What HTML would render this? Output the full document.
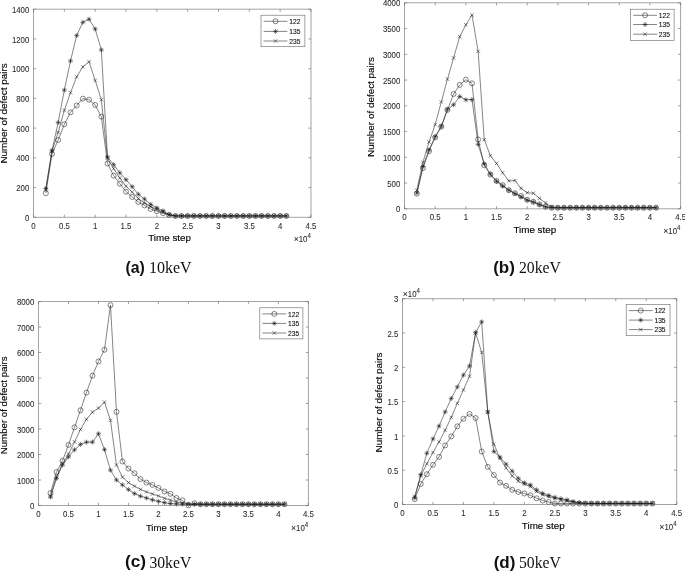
<!DOCTYPE html>
<html lang="en">
<head>
<meta charset="utf-8">
<title>Number of defect pairs vs time step</title>
<style>
html,body{margin:0;padding:0;background:#fff;}
body{width:685px;height:571px;overflow:hidden;}
svg{display:block;will-change:transform;}
</style>
</head>
<body>
<svg width="685" height="571" viewBox="0 0 685 571">
<rect width="685" height="571" fill="#fff"/>
<path d="M45.83 193.22L52 153.98L58.17 140.01L64.33 124.25L70.5 112.36L76.67 105.52L82.83 98.68L89 99.72L95.17 104.93L101.33 116.67L107.5 163.49L113.67 175.68L119.83 183.71L126 191.73L132.17 196.94L138.33 201.99L144.5 205.41L150.67 208.98L156.83 211.21L163 213.14L169.17 214.92L175.33 215.96L181.5 215.96L187.67 215.96L193.83 215.96L200 215.96L206.17 215.96L212.33 215.96L218.5 215.96L224.67 215.96L230.83 215.96L237 215.96L243.17 215.96L249.33 215.96L255.5 215.96L261.67 215.96L267.83 215.96L274 215.96L280.17 215.96L286.33 215.96M43.33 193.22a2.5 2.5 0 1 0 5 0a2.5 2.5 0 1 0 -5 0M49.5 153.98a2.5 2.5 0 1 0 5 0a2.5 2.5 0 1 0 -5 0M55.67 140.01a2.5 2.5 0 1 0 5 0a2.5 2.5 0 1 0 -5 0M61.83 124.25a2.5 2.5 0 1 0 5 0a2.5 2.5 0 1 0 -5 0M68 112.36a2.5 2.5 0 1 0 5 0a2.5 2.5 0 1 0 -5 0M74.17 105.52a2.5 2.5 0 1 0 5 0a2.5 2.5 0 1 0 -5 0M80.33 98.68a2.5 2.5 0 1 0 5 0a2.5 2.5 0 1 0 -5 0M86.5 99.72a2.5 2.5 0 1 0 5 0a2.5 2.5 0 1 0 -5 0M92.67 104.93a2.5 2.5 0 1 0 5 0a2.5 2.5 0 1 0 -5 0M98.83 116.67a2.5 2.5 0 1 0 5 0a2.5 2.5 0 1 0 -5 0M105 163.49a2.5 2.5 0 1 0 5 0a2.5 2.5 0 1 0 -5 0M111.17 175.68a2.5 2.5 0 1 0 5 0a2.5 2.5 0 1 0 -5 0M117.33 183.71a2.5 2.5 0 1 0 5 0a2.5 2.5 0 1 0 -5 0M123.5 191.73a2.5 2.5 0 1 0 5 0a2.5 2.5 0 1 0 -5 0M129.67 196.94a2.5 2.5 0 1 0 5 0a2.5 2.5 0 1 0 -5 0M135.83 201.99a2.5 2.5 0 1 0 5 0a2.5 2.5 0 1 0 -5 0M142 205.41a2.5 2.5 0 1 0 5 0a2.5 2.5 0 1 0 -5 0M148.17 208.98a2.5 2.5 0 1 0 5 0a2.5 2.5 0 1 0 -5 0M154.33 211.21a2.5 2.5 0 1 0 5 0a2.5 2.5 0 1 0 -5 0M160.5 213.14a2.5 2.5 0 1 0 5 0a2.5 2.5 0 1 0 -5 0M166.67 214.92a2.5 2.5 0 1 0 5 0a2.5 2.5 0 1 0 -5 0M172.83 215.96a2.5 2.5 0 1 0 5 0a2.5 2.5 0 1 0 -5 0M179 215.96a2.5 2.5 0 1 0 5 0a2.5 2.5 0 1 0 -5 0M185.17 215.96a2.5 2.5 0 1 0 5 0a2.5 2.5 0 1 0 -5 0M191.33 215.96a2.5 2.5 0 1 0 5 0a2.5 2.5 0 1 0 -5 0M197.5 215.96a2.5 2.5 0 1 0 5 0a2.5 2.5 0 1 0 -5 0M203.67 215.96a2.5 2.5 0 1 0 5 0a2.5 2.5 0 1 0 -5 0M209.83 215.96a2.5 2.5 0 1 0 5 0a2.5 2.5 0 1 0 -5 0M216 215.96a2.5 2.5 0 1 0 5 0a2.5 2.5 0 1 0 -5 0M222.17 215.96a2.5 2.5 0 1 0 5 0a2.5 2.5 0 1 0 -5 0M228.33 215.96a2.5 2.5 0 1 0 5 0a2.5 2.5 0 1 0 -5 0M234.5 215.96a2.5 2.5 0 1 0 5 0a2.5 2.5 0 1 0 -5 0M240.67 215.96a2.5 2.5 0 1 0 5 0a2.5 2.5 0 1 0 -5 0M246.83 215.96a2.5 2.5 0 1 0 5 0a2.5 2.5 0 1 0 -5 0M253 215.96a2.5 2.5 0 1 0 5 0a2.5 2.5 0 1 0 -5 0M259.17 215.96a2.5 2.5 0 1 0 5 0a2.5 2.5 0 1 0 -5 0M265.33 215.96a2.5 2.5 0 1 0 5 0a2.5 2.5 0 1 0 -5 0M271.5 215.96a2.5 2.5 0 1 0 5 0a2.5 2.5 0 1 0 -5 0M277.67 215.96a2.5 2.5 0 1 0 5 0a2.5 2.5 0 1 0 -5 0M283.83 215.96a2.5 2.5 0 1 0 5 0a2.5 2.5 0 1 0 -5 0M45.83 188.61L52 150.41L58.17 122.47L64.33 90.06L70.5 60.93L76.67 35.51L82.83 22.28L89 19.16L95.17 28.97L101.33 49.93L107.5 156.95L113.67 164.68L119.83 172.86L126 179.69L132.17 186.68L138.33 194.26L144.5 199.02L150.67 204.37L156.83 207.79L163 210.76L169.17 214.62L175.33 215.96L181.5 215.96L187.67 215.96L193.83 215.96L200 215.96L206.17 215.96L212.33 215.96L218.5 215.96L224.67 215.96L230.83 215.96L237 215.96L243.17 215.96L249.33 215.96L255.5 215.96L261.67 215.96L267.83 215.96L274 215.96L280.17 215.96L286.33 215.96M43.33 188.61L48.33 188.61M45.83 186.11L45.83 191.11M44.08 186.86L47.58 190.36M44.08 190.36L47.58 186.86M49.5 150.41L54.5 150.41M52 147.91L52 152.91M50.25 148.66L53.75 152.16M50.25 152.16L53.75 148.66M55.67 122.47L60.67 122.47M58.17 119.97L58.17 124.97M56.42 120.72L59.92 124.22M56.42 124.22L59.92 120.72M61.83 90.06L66.83 90.06M64.33 87.56L64.33 92.56M62.58 88.31L66.08 91.81M62.58 91.81L66.08 88.31M68 60.93L73 60.93M70.5 58.43L70.5 63.43M68.75 59.18L72.25 62.68M68.75 62.68L72.25 59.18M74.17 35.51L79.17 35.51M76.67 33.01L76.67 38.01M74.92 33.76L78.42 37.26M74.92 37.26L78.42 33.76M80.33 22.28L85.33 22.28M82.83 19.78L82.83 24.78M81.08 20.53L84.58 24.03M81.08 24.03L84.58 20.53M86.5 19.16L91.5 19.16M89 16.66L89 21.66M87.25 17.41L90.75 20.91M87.25 20.91L90.75 17.41M92.67 28.97L97.67 28.97M95.17 26.47L95.17 31.47M93.42 27.22L96.92 30.72M93.42 30.72L96.92 27.22M98.83 49.93L103.83 49.93M101.33 47.43L101.33 52.43M99.58 48.18L103.08 51.68M99.58 51.68L103.08 48.18M105 156.95L110 156.95M107.5 154.45L107.5 159.45M105.75 155.2L109.25 158.7M105.75 158.7L109.25 155.2M111.17 164.68L116.17 164.68M113.67 162.18L113.67 167.18M111.92 162.93L115.42 166.43M111.92 166.43L115.42 162.93M117.33 172.86L122.33 172.86M119.83 170.36L119.83 175.36M118.08 171.11L121.58 174.61M118.08 174.61L121.58 171.11M123.5 179.69L128.5 179.69M126 177.19L126 182.19M124.25 177.94L127.75 181.44M124.25 181.44L127.75 177.94M129.67 186.68L134.67 186.68M132.17 184.18L132.17 189.18M130.42 184.93L133.92 188.43M130.42 188.43L133.92 184.93M135.83 194.26L140.83 194.26M138.33 191.76L138.33 196.76M136.58 192.51L140.08 196.01M136.58 196.01L140.08 192.51M142 199.02L147 199.02M144.5 196.52L144.5 201.52M142.75 197.27L146.25 200.77M142.75 200.77L146.25 197.27M148.17 204.37L153.17 204.37M150.67 201.87L150.67 206.87M148.92 202.62L152.42 206.12M148.92 206.12L152.42 202.62M154.33 207.79L159.33 207.79M156.83 205.29L156.83 210.29M155.08 206.04L158.58 209.54M155.08 209.54L158.58 206.04M160.5 210.76L165.5 210.76M163 208.26L163 213.26M161.25 209.01L164.75 212.51M161.25 212.51L164.75 209.01M166.67 214.62L171.67 214.62M169.17 212.12L169.17 217.12M167.42 212.87L170.92 216.37M167.42 216.37L170.92 212.87M172.83 215.96L177.83 215.96M175.33 213.46L175.33 218.46M173.58 214.21L177.08 217.71M173.58 217.71L177.08 214.21M179 215.96L184 215.96M181.5 213.46L181.5 218.46M179.75 214.21L183.25 217.71M179.75 217.71L183.25 214.21M185.17 215.96L190.17 215.96M187.67 213.46L187.67 218.46M185.92 214.21L189.42 217.71M185.92 217.71L189.42 214.21M191.33 215.96L196.33 215.96M193.83 213.46L193.83 218.46M192.08 214.21L195.58 217.71M192.08 217.71L195.58 214.21M197.5 215.96L202.5 215.96M200 213.46L200 218.46M198.25 214.21L201.75 217.71M198.25 217.71L201.75 214.21M203.67 215.96L208.67 215.96M206.17 213.46L206.17 218.46M204.42 214.21L207.92 217.71M204.42 217.71L207.92 214.21M209.83 215.96L214.83 215.96M212.33 213.46L212.33 218.46M210.58 214.21L214.08 217.71M210.58 217.71L214.08 214.21M216 215.96L221 215.96M218.5 213.46L218.5 218.46M216.75 214.21L220.25 217.71M216.75 217.71L220.25 214.21M222.17 215.96L227.17 215.96M224.67 213.46L224.67 218.46M222.92 214.21L226.42 217.71M222.92 217.71L226.42 214.21M228.33 215.96L233.33 215.96M230.83 213.46L230.83 218.46M229.08 214.21L232.58 217.71M229.08 217.71L232.58 214.21M234.5 215.96L239.5 215.96M237 213.46L237 218.46M235.25 214.21L238.75 217.71M235.25 217.71L238.75 214.21M240.67 215.96L245.67 215.96M243.17 213.46L243.17 218.46M241.42 214.21L244.92 217.71M241.42 217.71L244.92 214.21M246.83 215.96L251.83 215.96M249.33 213.46L249.33 218.46M247.58 214.21L251.08 217.71M247.58 217.71L251.08 214.21M253 215.96L258 215.96M255.5 213.46L255.5 218.46M253.75 214.21L257.25 217.71M253.75 217.71L257.25 214.21M259.17 215.96L264.17 215.96M261.67 213.46L261.67 218.46M259.92 214.21L263.42 217.71M259.92 217.71L263.42 214.21M265.33 215.96L270.33 215.96M267.83 213.46L267.83 218.46M266.08 214.21L269.58 217.71M266.08 217.71L269.58 214.21M271.5 215.96L276.5 215.96M274 213.46L274 218.46M272.25 214.21L275.75 217.71M272.25 217.71L275.75 214.21M277.67 215.96L282.67 215.96M280.17 213.46L280.17 218.46M278.42 214.21L281.92 217.71M278.42 217.71L281.92 214.21M283.83 215.96L288.83 215.96M286.33 213.46L286.33 218.46M284.58 214.21L288.08 217.71M284.58 217.71L288.08 214.21M45.83 189.65L52 151.15L58.17 132.42L64.33 110.28L70.5 92.74L76.67 76.83L82.83 66.87L89 61.67L95.17 80.4L101.33 99.72L107.5 158.14L113.67 168.69L119.83 178.06L126 186.23L132.17 192.03L138.33 198.57L144.5 203.03L150.67 206.75L156.83 209.57L163 212.39L169.17 214.77L175.33 215.96L181.5 215.96L187.67 215.96L193.83 215.96L200 215.96L206.17 215.96L212.33 215.96L218.5 215.96L224.67 215.96L230.83 215.96L237 215.96L243.17 215.96L249.33 215.96L255.5 215.96L261.67 215.96L267.83 215.96L274 215.96L280.17 215.96L286.33 215.96M44.08 187.9L47.58 191.4M44.08 191.4L47.58 187.9M50.25 149.4L53.75 152.9M50.25 152.9L53.75 149.4M56.42 130.67L59.92 134.17M56.42 134.17L59.92 130.67M62.58 108.53L66.08 112.03M62.58 112.03L66.08 108.53M68.75 90.99L72.25 94.49M68.75 94.49L72.25 90.99M74.92 75.08L78.42 78.58M74.92 78.58L78.42 75.08M81.08 65.12L84.58 68.62M81.08 68.62L84.58 65.12M87.25 59.92L90.75 63.42M87.25 63.42L90.75 59.92M93.42 78.65L96.92 82.15M93.42 82.15L96.92 78.65M99.58 97.97L103.08 101.47M99.58 101.47L103.08 97.97M105.75 156.39L109.25 159.89M105.75 159.89L109.25 156.39M111.92 166.94L115.42 170.44M111.92 170.44L115.42 166.94M118.08 176.31L121.58 179.81M118.08 179.81L121.58 176.31M124.25 184.48L127.75 187.98M124.25 187.98L127.75 184.48M130.42 190.28L133.92 193.78M130.42 193.78L133.92 190.28M136.58 196.82L140.08 200.32M136.58 200.32L140.08 196.82M142.75 201.28L146.25 204.78M142.75 204.78L146.25 201.28M148.92 205L152.42 208.5M148.92 208.5L152.42 205M155.08 207.82L158.58 211.32M155.08 211.32L158.58 207.82M161.25 210.64L164.75 214.14M161.25 214.14L164.75 210.64M167.42 213.02L170.92 216.52M167.42 216.52L170.92 213.02M173.58 214.21L177.08 217.71M173.58 217.71L177.08 214.21M179.75 214.21L183.25 217.71M179.75 217.71L183.25 214.21M185.92 214.21L189.42 217.71M185.92 217.71L189.42 214.21M192.08 214.21L195.58 217.71M192.08 217.71L195.58 214.21M198.25 214.21L201.75 217.71M198.25 217.71L201.75 214.21M204.42 214.21L207.92 217.71M204.42 217.71L207.92 214.21M210.58 214.21L214.08 217.71M210.58 217.71L214.08 214.21M216.75 214.21L220.25 217.71M216.75 217.71L220.25 214.21M222.92 214.21L226.42 217.71M222.92 217.71L226.42 214.21M229.08 214.21L232.58 217.71M229.08 217.71L232.58 214.21M235.25 214.21L238.75 217.71M235.25 217.71L238.75 214.21M241.42 214.21L244.92 217.71M241.42 217.71L244.92 214.21M247.58 214.21L251.08 217.71M247.58 217.71L251.08 214.21M253.75 214.21L257.25 217.71M253.75 217.71L257.25 214.21M259.92 214.21L263.42 217.71M259.92 217.71L263.42 214.21M266.08 214.21L269.58 217.71M266.08 217.71L269.58 214.21M272.25 214.21L275.75 217.71M272.25 217.71L275.75 214.21M278.42 214.21L281.92 217.71M278.42 217.71L281.92 214.21M284.58 214.21L288.08 217.71M284.58 217.71L288.08 214.21" fill="none" stroke="#161616" stroke-width="0.52" stroke-linejoin="round"/>
<path d="M33.5 9.2H311V217.3H33.5ZM33.5 217.3v-2.7M33.5 9.2v2.7M64.33 217.3v-2.7M64.33 9.2v2.7M95.17 217.3v-2.7M95.17 9.2v2.7M126 217.3v-2.7M126 9.2v2.7M156.83 217.3v-2.7M156.83 9.2v2.7M187.67 217.3v-2.7M187.67 9.2v2.7M218.5 217.3v-2.7M218.5 9.2v2.7M249.33 217.3v-2.7M249.33 9.2v2.7M280.17 217.3v-2.7M280.17 9.2v2.7M311 217.3v-2.7M311 9.2v2.7M33.5 217.3h2.7M311 217.3h-2.7M33.5 187.57h2.7M311 187.57h-2.7M33.5 157.84h2.7M311 157.84h-2.7M33.5 128.11h2.7M311 128.11h-2.7M33.5 98.39h2.7M311 98.39h-2.7M33.5 68.66h2.7M311 68.66h-2.7M33.5 38.93h2.7M311 38.93h-2.7M33.5 9.2h2.7M311 9.2h-2.7" fill="none" stroke="#666" stroke-width="0.6"/>
<g font-family="'Liberation Sans', sans-serif" font-size="8.8" fill="#2a2a2a" stroke="#2a2a2a" stroke-width="0.08">
<text transform="translate(33.5 228.9) scale(0.89 1)" text-anchor="middle">0</text>
<text transform="translate(64.33 228.9) scale(0.89 1)" text-anchor="middle">0.5</text>
<text transform="translate(95.17 228.9) scale(0.89 1)" text-anchor="middle">1</text>
<text transform="translate(126 228.9) scale(0.89 1)" text-anchor="middle">1.5</text>
<text transform="translate(156.83 228.9) scale(0.89 1)" text-anchor="middle">2</text>
<text transform="translate(187.67 228.9) scale(0.89 1)" text-anchor="middle">2.5</text>
<text transform="translate(218.5 228.9) scale(0.89 1)" text-anchor="middle">3</text>
<text transform="translate(249.33 228.9) scale(0.89 1)" text-anchor="middle">3.5</text>
<text transform="translate(280.17 228.9) scale(0.89 1)" text-anchor="middle">4</text>
<text transform="translate(311 228.9) scale(0.89 1)" text-anchor="middle">4.5</text>
<text transform="translate(29.3 220.9) scale(0.89 1)" text-anchor="end">0</text>
<text transform="translate(29.3 191.17) scale(0.89 1)" text-anchor="end">200</text>
<text transform="translate(29.3 161.44) scale(0.89 1)" text-anchor="end">400</text>
<text transform="translate(29.3 131.71) scale(0.89 1)" text-anchor="end">600</text>
<text transform="translate(29.3 101.99) scale(0.89 1)" text-anchor="end">800</text>
<text transform="translate(29.3 72.26) scale(0.89 1)" text-anchor="end">1000</text>
<text transform="translate(29.3 42.53) scale(0.89 1)" text-anchor="end">1200</text>
<text transform="translate(29.3 12.8) scale(0.89 1)" text-anchor="end">1400</text>
<text transform="translate(310.8 242.4) scale(0.89 1)" text-anchor="end"><tspan font-size="9.8">×</tspan>10<tspan dy="-4" font-size="6.8">4</tspan></text>
</g>
<rect x="261" y="15.2" width="43.9" height="31.5" fill="#fff" stroke="#666" stroke-width="0.6"/>
<g fill="none" stroke="#161616" stroke-width="0.52">
<path d="M263.6 21.3h23.8"/>
<path d="M273 21.3a2.5 2.5 0 1 0 5 0a2.5 2.5 0 1 0 -5 0"/>
<path d="M263.6 31.4h23.8"/>
<path d="M273 31.4L278 31.4M275.5 28.9L275.5 33.9M273.75 29.65L277.25 33.15M273.75 33.15L277.25 29.65"/>
<path d="M263.6 41h23.8"/>
<path d="M273.75 39.25L277.25 42.75M273.75 42.75L277.25 39.25"/>
</g>
<g font-family="'Liberation Sans', sans-serif" font-size="7.3" fill="#111" stroke="#111" stroke-width="0.12">
<text transform="translate(289.2 24.05) scale(0.92 1)">122</text>
<text transform="translate(289.2 34.15) scale(0.92 1)">135</text>
<text transform="translate(289.2 43.75) scale(0.92 1)">235</text>
</g>
<text transform="translate(7.3 113.4) rotate(-90)" text-anchor="middle" textLength="100.4" lengthAdjust="spacingAndGlyphs" font-family="'Liberation Sans', sans-serif" font-size="9.9" fill="#000" stroke="#000" stroke-width="0.14">Number of defect pairs</text>
<text x="148.2" y="241" textLength="42.8" lengthAdjust="spacingAndGlyphs" font-family="'Liberation Sans', sans-serif" font-size="9.9" fill="#000" stroke="#000" stroke-width="0.14">Time step</text>
<text x="125.4" y="272.6" textLength="19.4" lengthAdjust="spacingAndGlyphs" font-family="'Liberation Sans', sans-serif" font-weight="bold" font-size="16" fill="#111">(a)</text>
<text x="148.9" y="273" textLength="42.8" lengthAdjust="spacingAndGlyphs" font-family="'Liberation Serif', serif" font-size="16" fill="#111">10keV</text>
<path d="M416.77 193.66L422.91 168.12L429.04 151.12L435.18 137.37L441.31 126.71L447.45 109.92L453.58 93.96L459.72 84.89L465.86 79.69L471.99 83.35L478.13 139.48L484.26 165.28L490.4 174.6L496.53 180.89L502.67 185.06L508.8 190.21L514.94 193.2L521.08 196.03L527.21 199.74L533.35 201.8L539.48 204.37L545.62 206.69L551.75 207.72L557.89 207.72L564.02 207.72L570.16 207.72L576.3 207.72L582.43 207.72L588.57 207.72L594.7 207.72L600.84 207.72L606.97 207.72L613.11 207.72L619.24 207.72L625.38 207.72L631.52 207.72L637.65 207.72L643.79 207.72L649.92 207.72L656.06 207.72M414.27 193.66a2.5 2.5 0 1 0 5 0a2.5 2.5 0 1 0 -5 0M420.41 168.12a2.5 2.5 0 1 0 5 0a2.5 2.5 0 1 0 -5 0M426.54 151.12a2.5 2.5 0 1 0 5 0a2.5 2.5 0 1 0 -5 0M432.68 137.37a2.5 2.5 0 1 0 5 0a2.5 2.5 0 1 0 -5 0M438.81 126.71a2.5 2.5 0 1 0 5 0a2.5 2.5 0 1 0 -5 0M444.95 109.92a2.5 2.5 0 1 0 5 0a2.5 2.5 0 1 0 -5 0M451.08 93.96a2.5 2.5 0 1 0 5 0a2.5 2.5 0 1 0 -5 0M457.22 84.89a2.5 2.5 0 1 0 5 0a2.5 2.5 0 1 0 -5 0M463.36 79.69a2.5 2.5 0 1 0 5 0a2.5 2.5 0 1 0 -5 0M469.49 83.35a2.5 2.5 0 1 0 5 0a2.5 2.5 0 1 0 -5 0M475.63 139.48a2.5 2.5 0 1 0 5 0a2.5 2.5 0 1 0 -5 0M481.76 165.28a2.5 2.5 0 1 0 5 0a2.5 2.5 0 1 0 -5 0M487.9 174.6a2.5 2.5 0 1 0 5 0a2.5 2.5 0 1 0 -5 0M494.03 180.89a2.5 2.5 0 1 0 5 0a2.5 2.5 0 1 0 -5 0M500.17 185.06a2.5 2.5 0 1 0 5 0a2.5 2.5 0 1 0 -5 0M506.3 190.21a2.5 2.5 0 1 0 5 0a2.5 2.5 0 1 0 -5 0M512.44 193.2a2.5 2.5 0 1 0 5 0a2.5 2.5 0 1 0 -5 0M518.58 196.03a2.5 2.5 0 1 0 5 0a2.5 2.5 0 1 0 -5 0M524.71 199.74a2.5 2.5 0 1 0 5 0a2.5 2.5 0 1 0 -5 0M530.85 201.8a2.5 2.5 0 1 0 5 0a2.5 2.5 0 1 0 -5 0M536.98 204.37a2.5 2.5 0 1 0 5 0a2.5 2.5 0 1 0 -5 0M543.12 206.69a2.5 2.5 0 1 0 5 0a2.5 2.5 0 1 0 -5 0M549.25 207.72a2.5 2.5 0 1 0 5 0a2.5 2.5 0 1 0 -5 0M555.39 207.72a2.5 2.5 0 1 0 5 0a2.5 2.5 0 1 0 -5 0M561.52 207.72a2.5 2.5 0 1 0 5 0a2.5 2.5 0 1 0 -5 0M567.66 207.72a2.5 2.5 0 1 0 5 0a2.5 2.5 0 1 0 -5 0M573.8 207.72a2.5 2.5 0 1 0 5 0a2.5 2.5 0 1 0 -5 0M579.93 207.72a2.5 2.5 0 1 0 5 0a2.5 2.5 0 1 0 -5 0M586.07 207.72a2.5 2.5 0 1 0 5 0a2.5 2.5 0 1 0 -5 0M592.2 207.72a2.5 2.5 0 1 0 5 0a2.5 2.5 0 1 0 -5 0M598.34 207.72a2.5 2.5 0 1 0 5 0a2.5 2.5 0 1 0 -5 0M604.47 207.72a2.5 2.5 0 1 0 5 0a2.5 2.5 0 1 0 -5 0M610.61 207.72a2.5 2.5 0 1 0 5 0a2.5 2.5 0 1 0 -5 0M616.74 207.72a2.5 2.5 0 1 0 5 0a2.5 2.5 0 1 0 -5 0M622.88 207.72a2.5 2.5 0 1 0 5 0a2.5 2.5 0 1 0 -5 0M629.02 207.72a2.5 2.5 0 1 0 5 0a2.5 2.5 0 1 0 -5 0M635.15 207.72a2.5 2.5 0 1 0 5 0a2.5 2.5 0 1 0 -5 0M641.29 207.72a2.5 2.5 0 1 0 5 0a2.5 2.5 0 1 0 -5 0M647.42 207.72a2.5 2.5 0 1 0 5 0a2.5 2.5 0 1 0 -5 0M653.56 207.72a2.5 2.5 0 1 0 5 0a2.5 2.5 0 1 0 -5 0M416.77 192.99L422.91 166.47L429.04 149.94L435.18 136.7L441.31 126.25L447.45 109.3L453.58 104.77L459.72 96.48L465.86 99.77L471.99 99.57L478.13 144.37L484.26 163.89L490.4 174.14L496.53 181.35L502.67 185.99L508.8 190.21L514.94 193.66L521.08 196.96L527.21 200.2L533.35 202.05L539.48 204.63L545.62 206.95L551.75 207.72L557.89 207.72L564.02 207.72L570.16 207.72L576.3 207.72L582.43 207.72L588.57 207.72L594.7 207.72L600.84 207.72L606.97 207.72L613.11 207.72L619.24 207.72L625.38 207.72L631.52 207.72L637.65 207.72L643.79 207.72L649.92 207.72L656.06 207.72M414.27 192.99L419.27 192.99M416.77 190.49L416.77 195.49M415.02 191.24L418.52 194.74M415.02 194.74L418.52 191.24M420.41 166.47L425.41 166.47M422.91 163.97L422.91 168.97M421.16 164.72L424.66 168.22M421.16 168.22L424.66 164.72M426.54 149.94L431.54 149.94M429.04 147.44L429.04 152.44M427.29 148.19L430.79 151.69M427.29 151.69L430.79 148.19M432.68 136.7L437.68 136.7M435.18 134.2L435.18 139.2M433.43 134.95L436.93 138.45M433.43 138.45L436.93 134.95M438.81 126.25L443.81 126.25M441.31 123.75L441.31 128.75M439.56 124.5L443.06 128M439.56 128L443.06 124.5M444.95 109.3L449.95 109.3M447.45 106.8L447.45 111.8M445.7 107.55L449.2 111.05M445.7 111.05L449.2 107.55M451.08 104.77L456.08 104.77M453.58 102.27L453.58 107.27M451.83 103.02L455.33 106.52M451.83 106.52L455.33 103.02M457.22 96.48L462.22 96.48M459.72 93.98L459.72 98.98M457.97 94.73L461.47 98.23M457.97 98.23L461.47 94.73M463.36 99.77L468.36 99.77M465.86 97.27L465.86 102.27M464.11 98.02L467.61 101.52M464.11 101.52L467.61 98.02M469.49 99.57L474.49 99.57M471.99 97.07L471.99 102.07M470.24 97.82L473.74 101.32M470.24 101.32L473.74 97.82M475.63 144.37L480.63 144.37M478.13 141.87L478.13 146.87M476.38 142.62L479.88 146.12M476.38 146.12L479.88 142.62M481.76 163.89L486.76 163.89M484.26 161.39L484.26 166.39M482.51 162.14L486.01 165.64M482.51 165.64L486.01 162.14M487.9 174.14L492.9 174.14M490.4 171.64L490.4 176.64M488.65 172.39L492.15 175.89M488.65 175.89L492.15 172.39M494.03 181.35L499.03 181.35M496.53 178.85L496.53 183.85M494.78 179.6L498.28 183.1M494.78 183.1L498.28 179.6M500.17 185.99L505.17 185.99M502.67 183.49L502.67 188.49M500.92 184.24L504.42 187.74M500.92 187.74L504.42 184.24M506.3 190.21L511.3 190.21M508.8 187.71L508.8 192.71M507.05 188.46L510.55 191.96M507.05 191.96L510.55 188.46M512.44 193.66L517.44 193.66M514.94 191.16L514.94 196.16M513.19 191.91L516.69 195.41M513.19 195.41L516.69 191.91M518.58 196.96L523.58 196.96M521.08 194.46L521.08 199.46M519.33 195.21L522.83 198.71M519.33 198.71L522.83 195.21M524.71 200.2L529.71 200.2M527.21 197.7L527.21 202.7M525.46 198.45L528.96 201.95M525.46 201.95L528.96 198.45M530.85 202.05L535.85 202.05M533.35 199.55L533.35 204.55M531.6 200.3L535.1 203.8M531.6 203.8L535.1 200.3M536.98 204.63L541.98 204.63M539.48 202.13L539.48 207.13M537.73 202.88L541.23 206.38M537.73 206.38L541.23 202.88M543.12 206.95L548.12 206.95M545.62 204.45L545.62 209.45M543.87 205.2L547.37 208.7M543.87 208.7L547.37 205.2M549.25 207.72L554.25 207.72M551.75 205.22L551.75 210.22M550 205.97L553.5 209.47M550 209.47L553.5 205.97M555.39 207.72L560.39 207.72M557.89 205.22L557.89 210.22M556.14 205.97L559.64 209.47M556.14 209.47L559.64 205.97M561.52 207.72L566.52 207.72M564.02 205.22L564.02 210.22M562.27 205.97L565.77 209.47M562.27 209.47L565.77 205.97M567.66 207.72L572.66 207.72M570.16 205.22L570.16 210.22M568.41 205.97L571.91 209.47M568.41 209.47L571.91 205.97M573.8 207.72L578.8 207.72M576.3 205.22L576.3 210.22M574.55 205.97L578.05 209.47M574.55 209.47L578.05 205.97M579.93 207.72L584.93 207.72M582.43 205.22L582.43 210.22M580.68 205.97L584.18 209.47M580.68 209.47L584.18 205.97M586.07 207.72L591.07 207.72M588.57 205.22L588.57 210.22M586.82 205.97L590.32 209.47M586.82 209.47L590.32 205.97M592.2 207.72L597.2 207.72M594.7 205.22L594.7 210.22M592.95 205.97L596.45 209.47M592.95 209.47L596.45 205.97M598.34 207.72L603.34 207.72M600.84 205.22L600.84 210.22M599.09 205.97L602.59 209.47M599.09 209.47L602.59 205.97M604.47 207.72L609.47 207.72M606.97 205.22L606.97 210.22M605.22 205.97L608.72 209.47M605.22 209.47L608.72 205.97M610.61 207.72L615.61 207.72M613.11 205.22L613.11 210.22M611.36 205.97L614.86 209.47M611.36 209.47L614.86 205.97M616.74 207.72L621.74 207.72M619.24 205.22L619.24 210.22M617.49 205.97L620.99 209.47M617.49 209.47L620.99 205.97M622.88 207.72L627.88 207.72M625.38 205.22L625.38 210.22M623.63 205.97L627.13 209.47M623.63 209.47L627.13 205.97M629.02 207.72L634.02 207.72M631.52 205.22L631.52 210.22M629.77 205.97L633.27 209.47M629.77 209.47L633.27 205.97M635.15 207.72L640.15 207.72M637.65 205.22L637.65 210.22M635.9 205.97L639.4 209.47M635.9 209.47L639.4 205.97M641.29 207.72L646.29 207.72M643.79 205.22L643.79 210.22M642.04 205.97L645.54 209.47M642.04 209.47L645.54 205.97M647.42 207.72L652.42 207.72M649.92 205.22L649.92 210.22M648.17 205.97L651.67 209.47M648.17 209.47L651.67 205.97M653.56 207.72L658.56 207.72M656.06 205.22L656.06 210.22M654.31 205.97L657.81 209.47M654.31 209.47L657.81 205.97M416.77 190.21L422.91 162.3L429.04 142.06L435.18 124.6L441.31 101.94L447.45 79.12L453.58 57.91L459.72 36.74L465.86 24.79L471.99 14.95L478.13 51.36L484.26 139.69L490.4 155.75L496.53 163.43L502.67 172.75L508.8 180.89L514.94 180.42L521.08 188.35L527.21 192.73L533.35 193.2L539.48 198.35L545.62 202.98L551.75 206.95L557.89 207.72L564.02 207.72L570.16 207.72L576.3 207.72L582.43 207.72L588.57 207.72L594.7 207.72L600.84 207.72L606.97 207.72L613.11 207.72L619.24 207.72L625.38 207.72L631.52 207.72L637.65 207.72L643.79 207.72L649.92 207.72L656.06 207.72M415.02 188.46L418.52 191.96M415.02 191.96L418.52 188.46M421.16 160.55L424.66 164.05M421.16 164.05L424.66 160.55M427.29 140.31L430.79 143.81M427.29 143.81L430.79 140.31M433.43 122.85L436.93 126.35M433.43 126.35L436.93 122.85M439.56 100.19L443.06 103.69M439.56 103.69L443.06 100.19M445.7 77.37L449.2 80.87M445.7 80.87L449.2 77.37M451.83 56.16L455.33 59.66M451.83 59.66L455.33 56.16M457.97 34.99L461.47 38.49M457.97 38.49L461.47 34.99M464.11 23.04L467.61 26.54M464.11 26.54L467.61 23.04M470.24 13.2L473.74 16.7M470.24 16.7L473.74 13.2M476.38 49.61L479.88 53.11M476.38 53.11L479.88 49.61M482.51 137.94L486.01 141.44M482.51 141.44L486.01 137.94M488.65 154L492.15 157.5M488.65 157.5L492.15 154M494.78 161.68L498.28 165.18M494.78 165.18L498.28 161.68M500.92 171L504.42 174.5M500.92 174.5L504.42 171M507.05 179.14L510.55 182.64M507.05 182.64L510.55 179.14M513.19 178.67L516.69 182.17M513.19 182.17L516.69 178.67M519.33 186.6L522.83 190.1M519.33 190.1L522.83 186.6M525.46 190.98L528.96 194.48M525.46 194.48L528.96 190.98M531.6 191.45L535.1 194.95M531.6 194.95L535.1 191.45M537.73 196.6L541.23 200.1M537.73 200.1L541.23 196.6M543.87 201.23L547.37 204.73M543.87 204.73L547.37 201.23M550 205.2L553.5 208.7M550 208.7L553.5 205.2M556.14 205.97L559.64 209.47M556.14 209.47L559.64 205.97M562.27 205.97L565.77 209.47M562.27 209.47L565.77 205.97M568.41 205.97L571.91 209.47M568.41 209.47L571.91 205.97M574.55 205.97L578.05 209.47M574.55 209.47L578.05 205.97M580.68 205.97L584.18 209.47M580.68 209.47L584.18 205.97M586.82 205.97L590.32 209.47M586.82 209.47L590.32 205.97M592.95 205.97L596.45 209.47M592.95 209.47L596.45 205.97M599.09 205.97L602.59 209.47M599.09 209.47L602.59 205.97M605.22 205.97L608.72 209.47M605.22 209.47L608.72 205.97M611.36 205.97L614.86 209.47M611.36 209.47L614.86 205.97M617.49 205.97L620.99 209.47M617.49 209.47L620.99 205.97M623.63 205.97L627.13 209.47M623.63 209.47L627.13 205.97M629.77 205.97L633.27 209.47M629.77 209.47L633.27 205.97M635.9 205.97L639.4 209.47M635.9 209.47L639.4 205.97M642.04 205.97L645.54 209.47M642.04 209.47L645.54 205.97M648.17 205.97L651.67 209.47M648.17 209.47L651.67 205.97M654.31 205.97L657.81 209.47M654.31 209.47L657.81 205.97" fill="none" stroke="#161616" stroke-width="0.52" stroke-linejoin="round"/>
<path d="M404.5 2.8H680.6V208.8H404.5ZM404.5 208.8v-2.7M404.5 2.8v2.7M435.18 208.8v-2.7M435.18 2.8v2.7M465.86 208.8v-2.7M465.86 2.8v2.7M496.53 208.8v-2.7M496.53 2.8v2.7M527.21 208.8v-2.7M527.21 2.8v2.7M557.89 208.8v-2.7M557.89 2.8v2.7M588.57 208.8v-2.7M588.57 2.8v2.7M619.24 208.8v-2.7M619.24 2.8v2.7M649.92 208.8v-2.7M649.92 2.8v2.7M680.6 208.8v-2.7M680.6 2.8v2.7M404.5 208.8h2.7M680.6 208.8h-2.7M404.5 183.05h2.7M680.6 183.05h-2.7M404.5 157.3h2.7M680.6 157.3h-2.7M404.5 131.55h2.7M680.6 131.55h-2.7M404.5 105.8h2.7M680.6 105.8h-2.7M404.5 80.05h2.7M680.6 80.05h-2.7M404.5 54.3h2.7M680.6 54.3h-2.7M404.5 28.55h2.7M680.6 28.55h-2.7M404.5 2.8h2.7M680.6 2.8h-2.7" fill="none" stroke="#666" stroke-width="0.6"/>
<g font-family="'Liberation Sans', sans-serif" font-size="8.8" fill="#2a2a2a" stroke="#2a2a2a" stroke-width="0.08">
<text transform="translate(404.5 220.4) scale(0.89 1)" text-anchor="middle">0</text>
<text transform="translate(435.18 220.4) scale(0.89 1)" text-anchor="middle">0.5</text>
<text transform="translate(465.86 220.4) scale(0.89 1)" text-anchor="middle">1</text>
<text transform="translate(496.53 220.4) scale(0.89 1)" text-anchor="middle">1.5</text>
<text transform="translate(527.21 220.4) scale(0.89 1)" text-anchor="middle">2</text>
<text transform="translate(557.89 220.4) scale(0.89 1)" text-anchor="middle">2.5</text>
<text transform="translate(588.57 220.4) scale(0.89 1)" text-anchor="middle">3</text>
<text transform="translate(619.24 220.4) scale(0.89 1)" text-anchor="middle">3.5</text>
<text transform="translate(649.92 220.4) scale(0.89 1)" text-anchor="middle">4</text>
<text transform="translate(680.6 220.4) scale(0.89 1)" text-anchor="middle">4.5</text>
<text transform="translate(400.3 212.4) scale(0.89 1)" text-anchor="end">0</text>
<text transform="translate(400.3 186.65) scale(0.89 1)" text-anchor="end">500</text>
<text transform="translate(400.3 160.9) scale(0.89 1)" text-anchor="end">1000</text>
<text transform="translate(400.3 135.15) scale(0.89 1)" text-anchor="end">1500</text>
<text transform="translate(400.3 109.4) scale(0.89 1)" text-anchor="end">2000</text>
<text transform="translate(400.3 83.65) scale(0.89 1)" text-anchor="end">2500</text>
<text transform="translate(400.3 57.9) scale(0.89 1)" text-anchor="end">3000</text>
<text transform="translate(400.3 32.15) scale(0.89 1)" text-anchor="end">3500</text>
<text transform="translate(400.3 6.4) scale(0.89 1)" text-anchor="end">4000</text>
<text transform="translate(680.4 233.9) scale(0.89 1)" text-anchor="end"><tspan font-size="9.8">×</tspan>10<tspan dy="-4" font-size="6.8">4</tspan></text>
</g>
<rect x="630.6" y="9.2" width="43.5" height="31.2" fill="#fff" stroke="#666" stroke-width="0.6"/>
<g fill="none" stroke="#161616" stroke-width="0.52">
<path d="M633.2 15.3h23.8"/>
<path d="M642.6 15.3a2.5 2.5 0 1 0 5 0a2.5 2.5 0 1 0 -5 0"/>
<path d="M633.2 24.5h23.8"/>
<path d="M642.6 24.5L647.6 24.5M645.1 22L645.1 27M643.35 22.75L646.85 26.25M643.35 26.25L646.85 22.75"/>
<path d="M633.2 34.2h23.8"/>
<path d="M643.35 32.45L646.85 35.95M643.35 35.95L646.85 32.45"/>
</g>
<g font-family="'Liberation Sans', sans-serif" font-size="7.3" fill="#111" stroke="#111" stroke-width="0.12">
<text transform="translate(658.8 18.05) scale(0.92 1)">122</text>
<text transform="translate(658.8 27.25) scale(0.92 1)">135</text>
<text transform="translate(658.8 36.95) scale(0.92 1)">235</text>
</g>
<text transform="translate(374.1 107) rotate(-90)" text-anchor="middle" textLength="100" lengthAdjust="spacingAndGlyphs" font-family="'Liberation Sans', sans-serif" font-size="9.9" fill="#000" stroke="#000" stroke-width="0.14">Number of defect pairs</text>
<text x="513.4" y="233.4" textLength="42.8" lengthAdjust="spacingAndGlyphs" font-family="'Liberation Sans', sans-serif" font-size="9.9" fill="#000" stroke="#000" stroke-width="0.14">Time step</text>
<text x="493.2" y="272.6" textLength="21.7" lengthAdjust="spacingAndGlyphs" font-family="'Liberation Sans', sans-serif" font-weight="bold" font-size="16" fill="#111">(b)</text>
<text x="519" y="273" textLength="41.9" lengthAdjust="spacingAndGlyphs" font-family="'Liberation Serif', serif" font-size="16" fill="#111">20keV</text>
<path d="M50.5 493.11L56.49 472.04L62.49 460.82L68.49 444.91L74.49 427.37L80.48 410.26L86.48 392.59L92.48 375.73L98.48 361.4L104.48 349.77L110.47 305.15L116.47 411.79L122.47 461.51L128.47 468.52L134.46 473.22L140.46 479.06L146.46 482.58L152.46 484.92L158.46 487.96L164.45 491.48L170.45 493.8L176.45 498L182.45 500.35L188.44 505.37L194.44 503.33L200.44 504.28L206.44 504.28L212.44 504.28L218.43 504.28L224.43 504.28L230.43 504.28L236.43 504.28L242.42 504.28L248.42 504.28L254.42 504.28L260.42 504.28L266.42 504.28L272.41 504.28L278.41 504.28L284.41 504.28M48 493.11a2.5 2.5 0 1 0 5 0a2.5 2.5 0 1 0 -5 0M53.99 472.04a2.5 2.5 0 1 0 5 0a2.5 2.5 0 1 0 -5 0M59.99 460.82a2.5 2.5 0 1 0 5 0a2.5 2.5 0 1 0 -5 0M65.99 444.91a2.5 2.5 0 1 0 5 0a2.5 2.5 0 1 0 -5 0M71.99 427.37a2.5 2.5 0 1 0 5 0a2.5 2.5 0 1 0 -5 0M77.98 410.26a2.5 2.5 0 1 0 5 0a2.5 2.5 0 1 0 -5 0M83.98 392.59a2.5 2.5 0 1 0 5 0a2.5 2.5 0 1 0 -5 0M89.98 375.73a2.5 2.5 0 1 0 5 0a2.5 2.5 0 1 0 -5 0M95.98 361.4a2.5 2.5 0 1 0 5 0a2.5 2.5 0 1 0 -5 0M101.98 349.77a2.5 2.5 0 1 0 5 0a2.5 2.5 0 1 0 -5 0M107.97 305.15a2.5 2.5 0 1 0 5 0a2.5 2.5 0 1 0 -5 0M113.97 411.79a2.5 2.5 0 1 0 5 0a2.5 2.5 0 1 0 -5 0M119.97 461.51a2.5 2.5 0 1 0 5 0a2.5 2.5 0 1 0 -5 0M125.97 468.52a2.5 2.5 0 1 0 5 0a2.5 2.5 0 1 0 -5 0M131.96 473.22a2.5 2.5 0 1 0 5 0a2.5 2.5 0 1 0 -5 0M137.96 479.06a2.5 2.5 0 1 0 5 0a2.5 2.5 0 1 0 -5 0M143.96 482.58a2.5 2.5 0 1 0 5 0a2.5 2.5 0 1 0 -5 0M149.96 484.92a2.5 2.5 0 1 0 5 0a2.5 2.5 0 1 0 -5 0M155.96 487.96a2.5 2.5 0 1 0 5 0a2.5 2.5 0 1 0 -5 0M161.95 491.48a2.5 2.5 0 1 0 5 0a2.5 2.5 0 1 0 -5 0M167.95 493.8a2.5 2.5 0 1 0 5 0a2.5 2.5 0 1 0 -5 0M173.95 498a2.5 2.5 0 1 0 5 0a2.5 2.5 0 1 0 -5 0M179.95 500.35a2.5 2.5 0 1 0 5 0a2.5 2.5 0 1 0 -5 0M185.94 505.37a2.5 2.5 0 1 0 5 0a2.5 2.5 0 1 0 -5 0M191.94 503.33a2.5 2.5 0 1 0 5 0a2.5 2.5 0 1 0 -5 0M197.94 504.28a2.5 2.5 0 1 0 5 0a2.5 2.5 0 1 0 -5 0M203.94 504.28a2.5 2.5 0 1 0 5 0a2.5 2.5 0 1 0 -5 0M209.94 504.28a2.5 2.5 0 1 0 5 0a2.5 2.5 0 1 0 -5 0M215.93 504.28a2.5 2.5 0 1 0 5 0a2.5 2.5 0 1 0 -5 0M221.93 504.28a2.5 2.5 0 1 0 5 0a2.5 2.5 0 1 0 -5 0M227.93 504.28a2.5 2.5 0 1 0 5 0a2.5 2.5 0 1 0 -5 0M233.93 504.28a2.5 2.5 0 1 0 5 0a2.5 2.5 0 1 0 -5 0M239.92 504.28a2.5 2.5 0 1 0 5 0a2.5 2.5 0 1 0 -5 0M245.92 504.28a2.5 2.5 0 1 0 5 0a2.5 2.5 0 1 0 -5 0M251.92 504.28a2.5 2.5 0 1 0 5 0a2.5 2.5 0 1 0 -5 0M257.92 504.28a2.5 2.5 0 1 0 5 0a2.5 2.5 0 1 0 -5 0M263.92 504.28a2.5 2.5 0 1 0 5 0a2.5 2.5 0 1 0 -5 0M269.91 504.28a2.5 2.5 0 1 0 5 0a2.5 2.5 0 1 0 -5 0M275.91 504.28a2.5 2.5 0 1 0 5 0a2.5 2.5 0 1 0 -5 0M281.91 504.28a2.5 2.5 0 1 0 5 0a2.5 2.5 0 1 0 -5 0M50.5 497.08L56.49 478.37L62.49 465.03L68.49 456.85L74.49 449.83L80.48 444.45L86.48 442.11L92.48 442.11L98.48 433.69L104.48 449.58L110.47 470.18L116.47 480L122.47 484.92L128.47 489.59L134.46 493.57L140.46 496.14L146.46 498L152.46 499.89L158.46 501.29L164.45 502.69L170.45 503.59L176.45 504.02L182.45 504.28L188.44 504.28L194.44 504.28L200.44 504.28L206.44 504.28L212.44 504.28L218.43 504.28L224.43 504.28L230.43 504.28L236.43 504.28L242.42 504.28L248.42 504.28L254.42 504.28L260.42 504.28L266.42 504.28L272.41 504.28L278.41 504.28L284.41 504.28M48 497.08L53 497.08M50.5 494.58L50.5 499.58M48.75 495.33L52.25 498.83M48.75 498.83L52.25 495.33M53.99 478.37L58.99 478.37M56.49 475.87L56.49 480.87M54.74 476.62L58.24 480.12M54.74 480.12L58.24 476.62M59.99 465.03L64.99 465.03M62.49 462.53L62.49 467.53M60.74 463.28L64.24 466.78M60.74 466.78L64.24 463.28M65.99 456.85L70.99 456.85M68.49 454.35L68.49 459.35M66.74 455.1L70.24 458.6M66.74 458.6L70.24 455.1M71.99 449.83L76.99 449.83M74.49 447.33L74.49 452.33M72.74 448.08L76.24 451.58M72.74 451.58L76.24 448.08M77.98 444.45L82.98 444.45M80.48 441.95L80.48 446.95M78.73 442.7L82.23 446.2M78.73 446.2L82.23 442.7M83.98 442.11L88.98 442.11M86.48 439.61L86.48 444.61M84.73 440.36L88.23 443.86M84.73 443.86L88.23 440.36M89.98 442.11L94.98 442.11M92.48 439.61L92.48 444.61M90.73 440.36L94.23 443.86M90.73 443.86L94.23 440.36M95.98 433.69L100.98 433.69M98.48 431.19L98.48 436.19M96.73 431.94L100.23 435.44M96.73 435.44L100.23 431.94M101.98 449.58L106.98 449.58M104.48 447.08L104.48 452.08M102.73 447.83L106.23 451.33M102.73 451.33L106.23 447.83M107.97 470.18L112.97 470.18M110.47 467.68L110.47 472.68M108.72 468.43L112.22 471.93M108.72 471.93L112.22 468.43M113.97 480L118.97 480M116.47 477.5L116.47 482.5M114.72 478.25L118.22 481.75M114.72 481.75L118.22 478.25M119.97 484.92L124.97 484.92M122.47 482.42L122.47 487.42M120.72 483.17L124.22 486.67M120.72 486.67L124.22 483.17M125.97 489.59L130.97 489.59M128.47 487.09L128.47 492.09M126.72 487.84L130.22 491.34M126.72 491.34L130.22 487.84M131.96 493.57L136.96 493.57M134.46 491.07L134.46 496.07M132.71 491.82L136.21 495.32M132.71 495.32L136.21 491.82M137.96 496.14L142.96 496.14M140.46 493.64L140.46 498.64M138.71 494.39L142.21 497.89M138.71 497.89L142.21 494.39M143.96 498L148.96 498M146.46 495.5L146.46 500.5M144.71 496.25L148.21 499.75M144.71 499.75L148.21 496.25M149.96 499.89L154.96 499.89M152.46 497.39L152.46 502.39M150.71 498.14L154.21 501.64M150.71 501.64L154.21 498.14M155.96 501.29L160.96 501.29M158.46 498.79L158.46 503.79M156.71 499.54L160.21 503.04M156.71 503.04L160.21 499.54M161.95 502.69L166.95 502.69M164.45 500.19L164.45 505.19M162.7 500.94L166.2 504.44M162.7 504.44L166.2 500.94M167.95 503.59L172.95 503.59M170.45 501.09L170.45 506.09M168.7 501.84L172.2 505.34M168.7 505.34L172.2 501.84M173.95 504.02L178.95 504.02M176.45 501.52L176.45 506.52M174.7 502.27L178.2 505.77M174.7 505.77L178.2 502.27M179.95 504.28L184.95 504.28M182.45 501.78L182.45 506.78M180.7 502.53L184.2 506.03M180.7 506.03L184.2 502.53M185.94 504.28L190.94 504.28M188.44 501.78L188.44 506.78M186.69 502.53L190.19 506.03M186.69 506.03L190.19 502.53M191.94 504.28L196.94 504.28M194.44 501.78L194.44 506.78M192.69 502.53L196.19 506.03M192.69 506.03L196.19 502.53M197.94 504.28L202.94 504.28M200.44 501.78L200.44 506.78M198.69 502.53L202.19 506.03M198.69 506.03L202.19 502.53M203.94 504.28L208.94 504.28M206.44 501.78L206.44 506.78M204.69 502.53L208.19 506.03M204.69 506.03L208.19 502.53M209.94 504.28L214.94 504.28M212.44 501.78L212.44 506.78M210.69 502.53L214.19 506.03M210.69 506.03L214.19 502.53M215.93 504.28L220.93 504.28M218.43 501.78L218.43 506.78M216.68 502.53L220.18 506.03M216.68 506.03L220.18 502.53M221.93 504.28L226.93 504.28M224.43 501.78L224.43 506.78M222.68 502.53L226.18 506.03M222.68 506.03L226.18 502.53M227.93 504.28L232.93 504.28M230.43 501.78L230.43 506.78M228.68 502.53L232.18 506.03M228.68 506.03L232.18 502.53M233.93 504.28L238.93 504.28M236.43 501.78L236.43 506.78M234.68 502.53L238.18 506.03M234.68 506.03L238.18 502.53M239.92 504.28L244.92 504.28M242.42 501.78L242.42 506.78M240.67 502.53L244.17 506.03M240.67 506.03L244.17 502.53M245.92 504.28L250.92 504.28M248.42 501.78L248.42 506.78M246.67 502.53L250.17 506.03M246.67 506.03L250.17 502.53M251.92 504.28L256.92 504.28M254.42 501.78L254.42 506.78M252.67 502.53L256.17 506.03M252.67 506.03L256.17 502.53M257.92 504.28L262.92 504.28M260.42 501.78L260.42 506.78M258.67 502.53L262.17 506.03M258.67 506.03L262.17 502.53M263.92 504.28L268.92 504.28M266.42 501.78L266.42 506.78M264.67 502.53L268.17 506.03M264.67 506.03L268.17 502.53M269.91 504.28L274.91 504.28M272.41 501.78L272.41 506.78M270.66 502.53L274.16 506.03M270.66 506.03L274.16 502.53M275.91 504.28L280.91 504.28M278.41 501.78L278.41 506.78M276.66 502.53L280.16 506.03M276.66 506.03L280.16 502.53M281.91 504.28L286.91 504.28M284.41 501.78L284.41 506.78M282.66 502.53L286.16 506.03M282.66 506.03L286.16 502.53M50.5 495.91L56.49 476.74L62.49 463.86L68.49 454.04L74.49 441.88L80.48 429.46L86.48 419.21L92.48 412.17L98.48 408.14L104.48 402.12L110.47 420.25L116.47 465.03L122.47 477.19L128.47 482.58L134.46 486.09L140.46 489.36L146.46 491.93L152.46 494.02L158.46 495.91L164.45 498.26L170.45 500.12L176.45 501.98L182.45 503.15L188.44 503.82L194.44 504.28L200.44 504.28L206.44 504.28L212.44 504.28L218.43 504.28L224.43 504.28L230.43 504.28L236.43 504.28L242.42 504.28L248.42 504.28L254.42 504.28L260.42 504.28L266.42 504.28L272.41 504.28L278.41 504.28L284.41 504.28M48.75 494.16L52.25 497.66M48.75 497.66L52.25 494.16M54.74 474.99L58.24 478.49M54.74 478.49L58.24 474.99M60.74 462.11L64.24 465.61M60.74 465.61L64.24 462.11M66.74 452.29L70.24 455.79M66.74 455.79L70.24 452.29M72.74 440.13L76.24 443.63M72.74 443.63L76.24 440.13M78.73 427.71L82.23 431.21M78.73 431.21L82.23 427.71M84.73 417.46L88.23 420.96M84.73 420.96L88.23 417.46M90.73 410.42L94.23 413.92M90.73 413.92L94.23 410.42M96.73 406.39L100.23 409.89M96.73 409.89L100.23 406.39M102.73 400.37L106.23 403.87M102.73 403.87L106.23 400.37M108.72 418.5L112.22 422M108.72 422L112.22 418.5M114.72 463.28L118.22 466.78M114.72 466.78L118.22 463.28M120.72 475.44L124.22 478.94M120.72 478.94L124.22 475.44M126.72 480.83L130.22 484.33M126.72 484.33L130.22 480.83M132.71 484.34L136.21 487.84M132.71 487.84L136.21 484.34M138.71 487.61L142.21 491.11M138.71 491.11L142.21 487.61M144.71 490.18L148.21 493.68M144.71 493.68L148.21 490.18M150.71 492.27L154.21 495.77M150.71 495.77L154.21 492.27M156.71 494.16L160.21 497.66M156.71 497.66L160.21 494.16M162.7 496.51L166.2 500.01M162.7 500.01L166.2 496.51M168.7 498.37L172.2 501.87M168.7 501.87L172.2 498.37M174.7 500.23L178.2 503.73M174.7 503.73L178.2 500.23M180.7 501.4L184.2 504.9M180.7 504.9L184.2 501.4M186.69 502.07L190.19 505.57M186.69 505.57L190.19 502.07M192.69 502.53L196.19 506.03M192.69 506.03L196.19 502.53M198.69 502.53L202.19 506.03M198.69 506.03L202.19 502.53M204.69 502.53L208.19 506.03M204.69 506.03L208.19 502.53M210.69 502.53L214.19 506.03M210.69 506.03L214.19 502.53M216.68 502.53L220.18 506.03M216.68 506.03L220.18 502.53M222.68 502.53L226.18 506.03M222.68 506.03L226.18 502.53M228.68 502.53L232.18 506.03M228.68 506.03L232.18 502.53M234.68 502.53L238.18 506.03M234.68 506.03L238.18 502.53M240.67 502.53L244.17 506.03M240.67 506.03L244.17 502.53M246.67 502.53L250.17 506.03M246.67 506.03L250.17 502.53M252.67 502.53L256.17 506.03M252.67 506.03L256.17 502.53M258.67 502.53L262.17 506.03M258.67 506.03L262.17 502.53M264.67 502.53L268.17 506.03M264.67 506.03L268.17 502.53M270.66 502.53L274.16 506.03M270.66 506.03L274.16 502.53M276.66 502.53L280.16 506.03M276.66 506.03L280.16 502.53M282.66 502.53L286.16 506.03M282.66 506.03L286.16 502.53" fill="none" stroke="#161616" stroke-width="0.52" stroke-linejoin="round"/>
<path d="M38.5 301.5H308.4V505.5H38.5ZM38.5 505.5v-2.7M38.5 301.5v2.7M68.49 505.5v-2.7M68.49 301.5v2.7M98.48 505.5v-2.7M98.48 301.5v2.7M128.47 505.5v-2.7M128.47 301.5v2.7M158.46 505.5v-2.7M158.46 301.5v2.7M188.44 505.5v-2.7M188.44 301.5v2.7M218.43 505.5v-2.7M218.43 301.5v2.7M248.42 505.5v-2.7M248.42 301.5v2.7M278.41 505.5v-2.7M278.41 301.5v2.7M308.4 505.5v-2.7M308.4 301.5v2.7M38.5 505.5h2.7M308.4 505.5h-2.7M38.5 480h2.7M308.4 480h-2.7M38.5 454.5h2.7M308.4 454.5h-2.7M38.5 429h2.7M308.4 429h-2.7M38.5 403.5h2.7M308.4 403.5h-2.7M38.5 378h2.7M308.4 378h-2.7M38.5 352.5h2.7M308.4 352.5h-2.7M38.5 327h2.7M308.4 327h-2.7M38.5 301.5h2.7M308.4 301.5h-2.7" fill="none" stroke="#666" stroke-width="0.6"/>
<g font-family="'Liberation Sans', sans-serif" font-size="8.8" fill="#2a2a2a" stroke="#2a2a2a" stroke-width="0.08">
<text transform="translate(38.5 517.1) scale(0.89 1)" text-anchor="middle">0</text>
<text transform="translate(68.49 517.1) scale(0.89 1)" text-anchor="middle">0.5</text>
<text transform="translate(98.48 517.1) scale(0.89 1)" text-anchor="middle">1</text>
<text transform="translate(128.47 517.1) scale(0.89 1)" text-anchor="middle">1.5</text>
<text transform="translate(158.46 517.1) scale(0.89 1)" text-anchor="middle">2</text>
<text transform="translate(188.44 517.1) scale(0.89 1)" text-anchor="middle">2.5</text>
<text transform="translate(218.43 517.1) scale(0.89 1)" text-anchor="middle">3</text>
<text transform="translate(248.42 517.1) scale(0.89 1)" text-anchor="middle">3.5</text>
<text transform="translate(278.41 517.1) scale(0.89 1)" text-anchor="middle">4</text>
<text transform="translate(308.4 517.1) scale(0.89 1)" text-anchor="middle">4.5</text>
<text transform="translate(34.3 509.1) scale(0.89 1)" text-anchor="end">0</text>
<text transform="translate(34.3 483.6) scale(0.89 1)" text-anchor="end">1000</text>
<text transform="translate(34.3 458.1) scale(0.89 1)" text-anchor="end">2000</text>
<text transform="translate(34.3 432.6) scale(0.89 1)" text-anchor="end">3000</text>
<text transform="translate(34.3 407.1) scale(0.89 1)" text-anchor="end">4000</text>
<text transform="translate(34.3 381.6) scale(0.89 1)" text-anchor="end">5000</text>
<text transform="translate(34.3 356.1) scale(0.89 1)" text-anchor="end">6000</text>
<text transform="translate(34.3 330.6) scale(0.89 1)" text-anchor="end">7000</text>
<text transform="translate(34.3 305.1) scale(0.89 1)" text-anchor="end">8000</text>
<text transform="translate(308.2 530.6) scale(0.89 1)" text-anchor="end"><tspan font-size="9.8">×</tspan>10<tspan dy="-4" font-size="6.8">4</tspan></text>
</g>
<rect x="259.8" y="307.8" width="43.1" height="31.1" fill="#fff" stroke="#666" stroke-width="0.6"/>
<g fill="none" stroke="#161616" stroke-width="0.52">
<path d="M262.4 313.9h23.8"/>
<path d="M271.8 313.9a2.5 2.5 0 1 0 5 0a2.5 2.5 0 1 0 -5 0"/>
<path d="M262.4 323.4h23.8"/>
<path d="M271.8 323.4L276.8 323.4M274.3 320.9L274.3 325.9M272.55 321.65L276.05 325.15M272.55 325.15L276.05 321.65"/>
<path d="M262.4 333h23.8"/>
<path d="M272.55 331.25L276.05 334.75M272.55 334.75L276.05 331.25"/>
</g>
<g font-family="'Liberation Sans', sans-serif" font-size="7.3" fill="#111" stroke="#111" stroke-width="0.12">
<text transform="translate(288 316.65) scale(0.92 1)">122</text>
<text transform="translate(288 326.15) scale(0.92 1)">135</text>
<text transform="translate(288 335.75) scale(0.92 1)">235</text>
</g>
<text transform="translate(7.3 405.3) rotate(-90)" text-anchor="middle" textLength="98" lengthAdjust="spacingAndGlyphs" font-family="'Liberation Sans', sans-serif" font-size="9.9" fill="#000" stroke="#000" stroke-width="0.14">Number of defect pairs</text>
<text x="145.9" y="530.6" textLength="41.6" lengthAdjust="spacingAndGlyphs" font-family="'Liberation Sans', sans-serif" font-size="9.9" fill="#000" stroke="#000" stroke-width="0.14">Time step</text>
<text x="125" y="567.4" textLength="21.1" lengthAdjust="spacingAndGlyphs" font-family="'Liberation Sans', sans-serif" font-weight="bold" font-size="16" fill="#111">(c)</text>
<text x="149.4" y="567.8" textLength="41.9" lengthAdjust="spacingAndGlyphs" font-family="'Liberation Serif', serif" font-size="16" fill="#111">30keV</text>
<path d="M414.69 499.15L420.78 483.99L426.87 474.18L432.97 464.85L439.06 456.89L445.15 445.44L451.25 436.38L457.34 426.36L463.43 418.75L469.53 413.95L475.62 418.06L481.71 451.54L487.81 466.91L493.9 475.07L499.99 482.55L506.09 485.84L512.18 489.82L518.27 491.95L524.37 493.52L530.46 495.38L536.55 498.33L542.65 500.52L548.74 502.03L554.83 503.54L560.93 503.54L567.02 503.54L573.11 503.54L579.21 503.54L585.3 503.54L591.39 503.54L597.49 503.54L603.58 503.54L609.67 503.54L615.77 503.54L621.86 503.54L627.95 503.54L634.05 503.54L640.14 503.54L646.23 503.54L652.33 503.54M412.19 499.15a2.5 2.5 0 1 0 5 0a2.5 2.5 0 1 0 -5 0M418.28 483.99a2.5 2.5 0 1 0 5 0a2.5 2.5 0 1 0 -5 0M424.37 474.18a2.5 2.5 0 1 0 5 0a2.5 2.5 0 1 0 -5 0M430.47 464.85a2.5 2.5 0 1 0 5 0a2.5 2.5 0 1 0 -5 0M436.56 456.89a2.5 2.5 0 1 0 5 0a2.5 2.5 0 1 0 -5 0M442.65 445.44a2.5 2.5 0 1 0 5 0a2.5 2.5 0 1 0 -5 0M448.75 436.38a2.5 2.5 0 1 0 5 0a2.5 2.5 0 1 0 -5 0M454.84 426.36a2.5 2.5 0 1 0 5 0a2.5 2.5 0 1 0 -5 0M460.93 418.75a2.5 2.5 0 1 0 5 0a2.5 2.5 0 1 0 -5 0M467.03 413.95a2.5 2.5 0 1 0 5 0a2.5 2.5 0 1 0 -5 0M473.12 418.06a2.5 2.5 0 1 0 5 0a2.5 2.5 0 1 0 -5 0M479.21 451.54a2.5 2.5 0 1 0 5 0a2.5 2.5 0 1 0 -5 0M485.31 466.91a2.5 2.5 0 1 0 5 0a2.5 2.5 0 1 0 -5 0M491.4 475.07a2.5 2.5 0 1 0 5 0a2.5 2.5 0 1 0 -5 0M497.49 482.55a2.5 2.5 0 1 0 5 0a2.5 2.5 0 1 0 -5 0M503.59 485.84a2.5 2.5 0 1 0 5 0a2.5 2.5 0 1 0 -5 0M509.68 489.82a2.5 2.5 0 1 0 5 0a2.5 2.5 0 1 0 -5 0M515.77 491.95a2.5 2.5 0 1 0 5 0a2.5 2.5 0 1 0 -5 0M521.87 493.52a2.5 2.5 0 1 0 5 0a2.5 2.5 0 1 0 -5 0M527.96 495.38a2.5 2.5 0 1 0 5 0a2.5 2.5 0 1 0 -5 0M534.05 498.33a2.5 2.5 0 1 0 5 0a2.5 2.5 0 1 0 -5 0M540.15 500.52a2.5 2.5 0 1 0 5 0a2.5 2.5 0 1 0 -5 0M546.24 502.03a2.5 2.5 0 1 0 5 0a2.5 2.5 0 1 0 -5 0M552.33 503.54a2.5 2.5 0 1 0 5 0a2.5 2.5 0 1 0 -5 0M558.43 503.54a2.5 2.5 0 1 0 5 0a2.5 2.5 0 1 0 -5 0M564.52 503.54a2.5 2.5 0 1 0 5 0a2.5 2.5 0 1 0 -5 0M570.61 503.54a2.5 2.5 0 1 0 5 0a2.5 2.5 0 1 0 -5 0M576.71 503.54a2.5 2.5 0 1 0 5 0a2.5 2.5 0 1 0 -5 0M582.8 503.54a2.5 2.5 0 1 0 5 0a2.5 2.5 0 1 0 -5 0M588.89 503.54a2.5 2.5 0 1 0 5 0a2.5 2.5 0 1 0 -5 0M594.99 503.54a2.5 2.5 0 1 0 5 0a2.5 2.5 0 1 0 -5 0M601.08 503.54a2.5 2.5 0 1 0 5 0a2.5 2.5 0 1 0 -5 0M607.17 503.54a2.5 2.5 0 1 0 5 0a2.5 2.5 0 1 0 -5 0M613.27 503.54a2.5 2.5 0 1 0 5 0a2.5 2.5 0 1 0 -5 0M619.36 503.54a2.5 2.5 0 1 0 5 0a2.5 2.5 0 1 0 -5 0M625.45 503.54a2.5 2.5 0 1 0 5 0a2.5 2.5 0 1 0 -5 0M631.55 503.54a2.5 2.5 0 1 0 5 0a2.5 2.5 0 1 0 -5 0M637.64 503.54a2.5 2.5 0 1 0 5 0a2.5 2.5 0 1 0 -5 0M643.73 503.54a2.5 2.5 0 1 0 5 0a2.5 2.5 0 1 0 -5 0M649.83 503.54a2.5 2.5 0 1 0 5 0a2.5 2.5 0 1 0 -5 0M414.69 497.98L420.78 474.66L426.87 453.19L432.97 438.92L439.06 426.09L445.15 411.89L451.25 398.44L457.34 386.92L463.43 375.05L469.53 365.93L475.62 332.45L481.71 321.75L487.81 411.89L493.9 451.54L499.99 457.17L506.09 464.16L512.18 471.16L518.27 478.36L524.37 482.82L530.46 484.95L536.55 489.82L542.65 493.32L548.74 495.38L554.83 497.3L560.93 498.67L567.02 499.84L573.11 501.48L579.21 502.65L585.3 503.33L591.39 503.47L597.49 503.47L603.58 503.47L609.67 503.47L615.77 503.47L621.86 503.47L627.95 503.47L634.05 503.47L640.14 503.47L646.23 503.47L652.33 503.47M412.19 497.98L417.19 497.98M414.69 495.48L414.69 500.48M412.94 496.23L416.44 499.73M412.94 499.73L416.44 496.23M418.28 474.66L423.28 474.66M420.78 472.16L420.78 477.16M419.03 472.91L422.53 476.41M419.03 476.41L422.53 472.91M424.37 453.19L429.37 453.19M426.87 450.69L426.87 455.69M425.12 451.44L428.62 454.94M425.12 454.94L428.62 451.44M430.47 438.92L435.47 438.92M432.97 436.42L432.97 441.42M431.22 437.17L434.72 440.67M431.22 440.67L434.72 437.17M436.56 426.09L441.56 426.09M439.06 423.59L439.06 428.59M437.31 424.34L440.81 427.84M437.31 427.84L440.81 424.34M442.65 411.89L447.65 411.89M445.15 409.39L445.15 414.39M443.4 410.14L446.9 413.64M443.4 413.64L446.9 410.14M448.75 398.44L453.75 398.44M451.25 395.94L451.25 400.94M449.5 396.69L453 400.19M449.5 400.19L453 396.69M454.84 386.92L459.84 386.92M457.34 384.42L457.34 389.42M455.59 385.17L459.09 388.67M455.59 388.67L459.09 385.17M460.93 375.05L465.93 375.05M463.43 372.55L463.43 377.55M461.68 373.3L465.18 376.8M461.68 376.8L465.18 373.3M467.03 365.93L472.03 365.93M469.53 363.43L469.53 368.43M467.78 364.18L471.28 367.68M467.78 367.68L471.28 364.18M473.12 332.45L478.12 332.45M475.62 329.95L475.62 334.95M473.87 330.7L477.37 334.2M473.87 334.2L477.37 330.7M479.21 321.75L484.21 321.75M481.71 319.25L481.71 324.25M479.96 320L483.46 323.5M479.96 323.5L483.46 320M485.31 411.89L490.31 411.89M487.81 409.39L487.81 414.39M486.06 410.14L489.56 413.64M486.06 413.64L489.56 410.14M491.4 451.54L496.4 451.54M493.9 449.04L493.9 454.04M492.15 449.79L495.65 453.29M492.15 453.29L495.65 449.79M497.49 457.17L502.49 457.17M499.99 454.67L499.99 459.67M498.24 455.42L501.74 458.92M498.24 458.92L501.74 455.42M503.59 464.16L508.59 464.16M506.09 461.66L506.09 466.66M504.34 462.41L507.84 465.91M504.34 465.91L507.84 462.41M509.68 471.16L514.68 471.16M512.18 468.66L512.18 473.66M510.43 469.41L513.93 472.91M510.43 472.91L513.93 469.41M515.77 478.36L520.77 478.36M518.27 475.86L518.27 480.86M516.52 476.61L520.02 480.11M516.52 480.11L520.02 476.61M521.87 482.82L526.87 482.82M524.37 480.32L524.37 485.32M522.62 481.07L526.12 484.57M522.62 484.57L526.12 481.07M527.96 484.95L532.96 484.95M530.46 482.45L530.46 487.45M528.71 483.2L532.21 486.7M528.71 486.7L532.21 483.2M534.05 489.82L539.05 489.82M536.55 487.32L536.55 492.32M534.8 488.07L538.3 491.57M534.8 491.57L538.3 488.07M540.15 493.32L545.15 493.32M542.65 490.82L542.65 495.82M540.9 491.57L544.4 495.07M540.9 495.07L544.4 491.57M546.24 495.38L551.24 495.38M548.74 492.88L548.74 497.88M546.99 493.63L550.49 497.13M546.99 497.13L550.49 493.63M552.33 497.3L557.33 497.3M554.83 494.8L554.83 499.8M553.08 495.55L556.58 499.05M553.08 499.05L556.58 495.55M558.43 498.67L563.43 498.67M560.93 496.17L560.93 501.17M559.18 496.92L562.68 500.42M559.18 500.42L562.68 496.92M564.52 499.84L569.52 499.84M567.02 497.34L567.02 502.34M565.27 498.09L568.77 501.59M565.27 501.59L568.77 498.09M570.61 501.48L575.61 501.48M573.11 498.98L573.11 503.98M571.36 499.73L574.86 503.23M571.36 503.23L574.86 499.73M576.71 502.65L581.71 502.65M579.21 500.15L579.21 505.15M577.46 500.9L580.96 504.4M577.46 504.4L580.96 500.9M582.8 503.33L587.8 503.33M585.3 500.83L585.3 505.83M583.55 501.58L587.05 505.08M583.55 505.08L587.05 501.58M588.89 503.47L593.89 503.47M591.39 500.97L591.39 505.97M589.64 501.72L593.14 505.22M589.64 505.22L593.14 501.72M594.99 503.47L599.99 503.47M597.49 500.97L597.49 505.97M595.74 501.72L599.24 505.22M595.74 505.22L599.24 501.72M601.08 503.47L606.08 503.47M603.58 500.97L603.58 505.97M601.83 501.72L605.33 505.22M601.83 505.22L605.33 501.72M607.17 503.47L612.17 503.47M609.67 500.97L609.67 505.97M607.92 501.72L611.42 505.22M607.92 505.22L611.42 501.72M613.27 503.47L618.27 503.47M615.77 500.97L615.77 505.97M614.02 501.72L617.52 505.22M614.02 505.22L617.52 501.72M619.36 503.47L624.36 503.47M621.86 500.97L621.86 505.97M620.11 501.72L623.61 505.22M620.11 505.22L623.61 501.72M625.45 503.47L630.45 503.47M627.95 500.97L627.95 505.97M626.2 501.72L629.7 505.22M626.2 505.22L629.7 501.72M631.55 503.47L636.55 503.47M634.05 500.97L634.05 505.97M632.3 501.72L635.8 505.22M632.3 505.22L635.8 501.72M637.64 503.47L642.64 503.47M640.14 500.97L640.14 505.97M638.39 501.72L641.89 505.22M638.39 505.22L641.89 501.72M643.73 503.47L648.73 503.47M646.23 500.97L646.23 505.97M644.48 501.72L647.98 505.22M644.48 505.22L647.98 501.72M649.83 503.47L654.83 503.47M652.33 500.97L652.33 505.97M650.58 501.72L654.08 505.22M650.58 505.22L654.08 501.72M414.69 496.34L420.78 475.83L426.87 463.68L432.97 452.43L439.06 441.94L445.15 430.27L451.25 417.38L457.34 403.31L463.43 389.87L469.53 376.22L475.62 332.86L481.71 352.48L487.81 412.23L493.9 444.27L499.99 458.33L506.09 468.07L512.18 475.83L518.27 481.18L524.37 484.19L530.46 486.53L536.55 491.47L542.65 494.76L548.74 496.82L554.83 498.46L560.93 499.63L567.02 500.8L573.11 501.96L579.21 502.85L585.3 503.33L591.39 503.47L597.49 503.47L603.58 503.47L609.67 503.47L615.77 503.47L621.86 503.47L627.95 503.47L634.05 503.47L640.14 503.47L646.23 503.47L652.33 503.47M412.94 494.59L416.44 498.09M412.94 498.09L416.44 494.59M419.03 474.08L422.53 477.58M419.03 477.58L422.53 474.08M425.12 461.93L428.62 465.43M425.12 465.43L428.62 461.93M431.22 450.68L434.72 454.18M431.22 454.18L434.72 450.68M437.31 440.19L440.81 443.69M437.31 443.69L440.81 440.19M443.4 428.52L446.9 432.02M443.4 432.02L446.9 428.52M449.5 415.63L453 419.13M449.5 419.13L453 415.63M455.59 401.56L459.09 405.06M455.59 405.06L459.09 401.56M461.68 388.12L465.18 391.62M461.68 391.62L465.18 388.12M467.78 374.47L471.28 377.97M467.78 377.97L471.28 374.47M473.87 331.11L477.37 334.61M473.87 334.61L477.37 331.11M479.96 350.73L483.46 354.23M479.96 354.23L483.46 350.73M486.06 410.48L489.56 413.98M486.06 413.98L489.56 410.48M492.15 442.52L495.65 446.02M492.15 446.02L495.65 442.52M498.24 456.58L501.74 460.08M498.24 460.08L501.74 456.58M504.34 466.32L507.84 469.82M504.34 469.82L507.84 466.32M510.43 474.08L513.93 477.58M510.43 477.58L513.93 474.08M516.52 479.43L520.02 482.93M516.52 482.93L520.02 479.43M522.62 482.44L526.12 485.94M522.62 485.94L526.12 482.44M528.71 484.78L532.21 488.28M528.71 488.28L532.21 484.78M534.8 489.72L538.3 493.22M534.8 493.22L538.3 489.72M540.9 493.01L544.4 496.51M540.9 496.51L544.4 493.01M546.99 495.07L550.49 498.57M546.99 498.57L550.49 495.07M553.08 496.71L556.58 500.21M553.08 500.21L556.58 496.71M559.18 497.88L562.68 501.38M559.18 501.38L562.68 497.88M565.27 499.05L568.77 502.55M565.27 502.55L568.77 499.05M571.36 500.21L574.86 503.71M571.36 503.71L574.86 500.21M577.46 501.1L580.96 504.6M577.46 504.6L580.96 501.1M583.55 501.58L587.05 505.08M583.55 505.08L587.05 501.58M589.64 501.72L593.14 505.22M589.64 505.22L593.14 501.72M595.74 501.72L599.24 505.22M595.74 505.22L599.24 501.72M601.83 501.72L605.33 505.22M601.83 505.22L605.33 501.72M607.92 501.72L611.42 505.22M607.92 505.22L611.42 501.72M614.02 501.72L617.52 505.22M614.02 505.22L617.52 501.72M620.11 501.72L623.61 505.22M620.11 505.22L623.61 501.72M626.2 501.72L629.7 505.22M626.2 505.22L629.7 501.72M632.3 501.72L635.8 505.22M632.3 505.22L635.8 501.72M638.39 501.72L641.89 505.22M638.39 505.22L641.89 501.72M644.48 501.72L647.98 505.22M644.48 505.22L647.98 501.72M650.58 501.72L654.08 505.22M650.58 505.22L654.08 501.72" fill="none" stroke="#161616" stroke-width="0.52" stroke-linejoin="round"/>
<path d="M402.5 298.7H676.7V504.5H402.5ZM402.5 504.5v-2.7M402.5 298.7v2.7M432.97 504.5v-2.7M432.97 298.7v2.7M463.43 504.5v-2.7M463.43 298.7v2.7M493.9 504.5v-2.7M493.9 298.7v2.7M524.37 504.5v-2.7M524.37 298.7v2.7M554.83 504.5v-2.7M554.83 298.7v2.7M585.3 504.5v-2.7M585.3 298.7v2.7M615.77 504.5v-2.7M615.77 298.7v2.7M646.23 504.5v-2.7M646.23 298.7v2.7M676.7 504.5v-2.7M676.7 298.7v2.7M402.5 504.5h2.7M676.7 504.5h-2.7M402.5 470.2h2.7M676.7 470.2h-2.7M402.5 435.9h2.7M676.7 435.9h-2.7M402.5 401.6h2.7M676.7 401.6h-2.7M402.5 367.3h2.7M676.7 367.3h-2.7M402.5 333h2.7M676.7 333h-2.7M402.5 298.7h2.7M676.7 298.7h-2.7" fill="none" stroke="#666" stroke-width="0.6"/>
<g font-family="'Liberation Sans', sans-serif" font-size="8.8" fill="#2a2a2a" stroke="#2a2a2a" stroke-width="0.08">
<text transform="translate(402.5 516.1) scale(0.89 1)" text-anchor="middle">0</text>
<text transform="translate(432.97 516.1) scale(0.89 1)" text-anchor="middle">0.5</text>
<text transform="translate(463.43 516.1) scale(0.89 1)" text-anchor="middle">1</text>
<text transform="translate(493.9 516.1) scale(0.89 1)" text-anchor="middle">1.5</text>
<text transform="translate(524.37 516.1) scale(0.89 1)" text-anchor="middle">2</text>
<text transform="translate(554.83 516.1) scale(0.89 1)" text-anchor="middle">2.5</text>
<text transform="translate(585.3 516.1) scale(0.89 1)" text-anchor="middle">3</text>
<text transform="translate(615.77 516.1) scale(0.89 1)" text-anchor="middle">3.5</text>
<text transform="translate(646.23 516.1) scale(0.89 1)" text-anchor="middle">4</text>
<text transform="translate(676.7 516.1) scale(0.89 1)" text-anchor="middle">4.5</text>
<text transform="translate(398.3 508.1) scale(0.89 1)" text-anchor="end">0</text>
<text transform="translate(398.3 473.8) scale(0.89 1)" text-anchor="end">0.5</text>
<text transform="translate(398.3 439.5) scale(0.89 1)" text-anchor="end">1</text>
<text transform="translate(398.3 405.2) scale(0.89 1)" text-anchor="end">1.5</text>
<text transform="translate(398.3 370.9) scale(0.89 1)" text-anchor="end">2</text>
<text transform="translate(398.3 336.6) scale(0.89 1)" text-anchor="end">2.5</text>
<text transform="translate(398.3 302.3) scale(0.89 1)" text-anchor="end">3</text>
<text transform="translate(676.5 529.6) scale(0.89 1)" text-anchor="end"><tspan font-size="9.8">×</tspan>10<tspan dy="-4" font-size="6.8">4</tspan></text>
<text transform="translate(402.7 296.7) scale(0.89 1)"><tspan font-size="9.8">×</tspan>10<tspan dy="-4" font-size="6.8">4</tspan></text>
</g>
<rect x="626.2" y="304.5" width="43.8" height="31.2" fill="#fff" stroke="#666" stroke-width="0.6"/>
<g fill="none" stroke="#161616" stroke-width="0.52">
<path d="M628.8 310.6h23.8"/>
<path d="M638.2 310.6a2.5 2.5 0 1 0 5 0a2.5 2.5 0 1 0 -5 0"/>
<path d="M628.8 320.1h23.8"/>
<path d="M638.2 320.1L643.2 320.1M640.7 317.6L640.7 322.6M638.95 318.35L642.45 321.85M638.95 321.85L642.45 318.35"/>
<path d="M628.8 329.6h23.8"/>
<path d="M638.95 327.85L642.45 331.35M638.95 331.35L642.45 327.85"/>
</g>
<g font-family="'Liberation Sans', sans-serif" font-size="7.3" fill="#111" stroke="#111" stroke-width="0.12">
<text transform="translate(654.4 313.35) scale(0.92 1)">122</text>
<text transform="translate(654.4 322.85) scale(0.92 1)">135</text>
<text transform="translate(654.4 332.35) scale(0.92 1)">235</text>
</g>
<text transform="translate(382 402.5) rotate(-90)" text-anchor="middle" textLength="100" lengthAdjust="spacingAndGlyphs" font-family="'Liberation Sans', sans-serif" font-size="9.9" fill="#000" stroke="#000" stroke-width="0.14">Number of defect pairs</text>
<text x="521.8" y="528.9" textLength="42.9" lengthAdjust="spacingAndGlyphs" font-family="'Liberation Sans', sans-serif" font-size="9.9" fill="#000" stroke="#000" stroke-width="0.14">Time step</text>
<text x="493.7" y="567.6" textLength="21.7" lengthAdjust="spacingAndGlyphs" font-family="'Liberation Sans', sans-serif" font-weight="bold" font-size="16" fill="#111">(d)</text>
<text x="519" y="568" textLength="41.9" lengthAdjust="spacingAndGlyphs" font-family="'Liberation Serif', serif" font-size="16" fill="#111">50keV</text>
</svg>
</body>
</html>
